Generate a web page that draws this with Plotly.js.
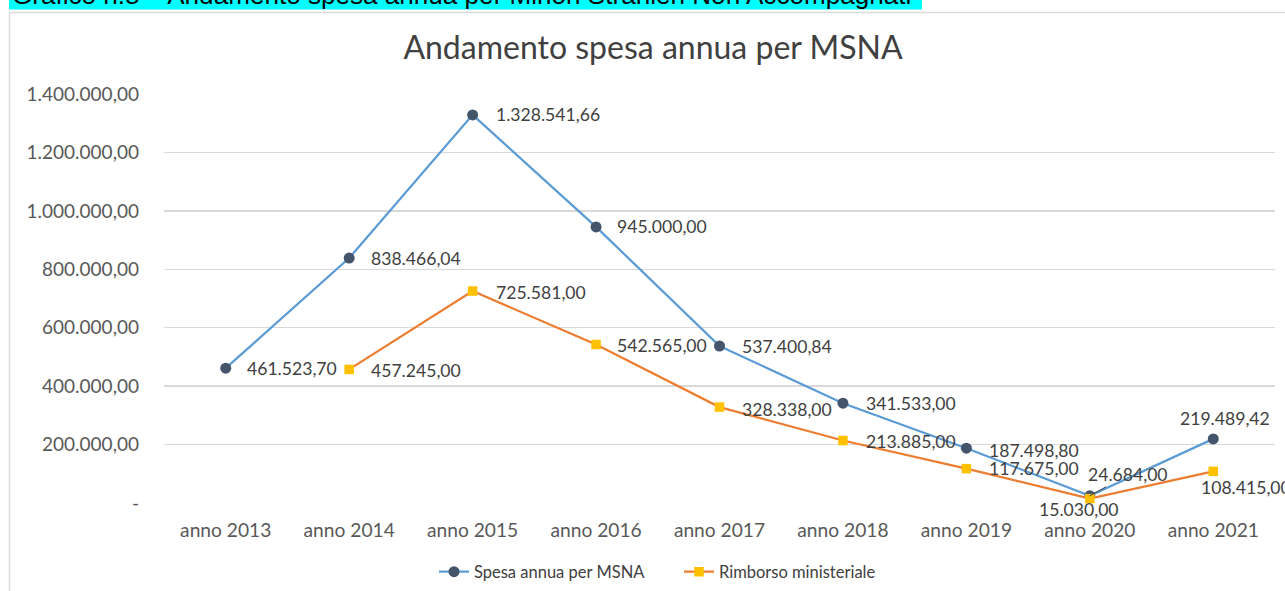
<!DOCTYPE html>
<html>
<head>
<meta charset="utf-8">
<script src="https://cdn.plot.ly/plotly-3.0.1.min.js"></script>
<style>html,body{margin:0;padding:0;background:#fff;}#chart{width:1285px;height:591px;}</style>
</head>
<body>
<div id="chart"></div>
<script>
// ---- data ----
const categories = ["anno 2013","anno 2014","anno 2015","anno 2016","anno 2017","anno 2018","anno 2019","anno 2020","anno 2021"];
const spesaName = "Spesa annua per MSNA";
const spesaValues = [461523.70, 838466.04, 1328541.66, 945000.00, 537400.84, 341533.00, 187498.80, 24684.00, 219489.42];
const rimborsoName = "Rimborso ministeriale";
const rimborsoCats = ["anno 2014","anno 2015","anno 2016","anno 2017","anno 2018","anno 2019","anno 2020","anno 2021"];
const rimborsoValues = [457245.00, 725581.00, 542565.00, 328338.00, 213885.00, 117675.00, 15030.00, 108415.00];
const yTickVals = [0, 200000, 400000, 600000, 800000, 1000000, 1200000, 1400000];
const chartTitle = "Andamento spesa annua per MSNA";
const headerText = "Grafico n.8 – Andamento spesa annua per Minori Stranieri Non Accompagnati";

// ---- formatting ----
function itFmt(v){
  if (v === 0) return "-";
  const parts = v.toFixed(2).split(".");
  const intPart = parts[0].replace(/\B(?=(\d{3})+(?!\d))/g, ".");
  return intPart + "," + parts[1];
}

// ---- layout geometry ----
const W = 1285, H = 591, L = 164, R = 10, T = 94, B = 88;
const pw = W - L - R, ph = H - T - B;
const px = x => (x - L) / pw;
const py = y => (H - B - y) / ph;

const FONT = "Lato, 'Open Sans', sans-serif";
const labelFont = {family: FONT, size: 17.6, color: "#404040"};

// label offsets (style only)
const spesaOff = [
  {xa:"left", xs:19, ys:0}, {xa:"left", xs:20, ys:0}, {xa:"left", xs:21, ys:0},
  {xa:"left", xs:19, ys:0}, {xa:"left", xs:20, ys:0}, {xa:"left", xs:21, ys:0},
  {xa:"left", xs:21, ys:-2}, {arrow:true, ax:38, ay:-21}, {xa:"center", xs:12, ys:20}
];
const rimbOff = [
  {xa:"left", xs:20, ys:-1}, {xa:"left", xs:21, ys:-1}, {xa:"left", xs:19, ys:-1},
  {xa:"left", xs:20, ys:-2}, {xa:"left", xs:21, ys:-1}, {xa:"left", xs:21, ys:0},
  {xa:"center", xs:-11, ys:-11}, {xa:"left", xs:-14, ys:-16}
];

const annotations = [];
function addLabels(cats, vals, offs){
  cats.forEach((c, i) => {
    const o = offs[i];
    if (o.arrow){
      annotations.push({x:c, y:vals[i], xref:"x", yref:"y", text:itFmt(vals[i]),
        showarrow:true, arrowhead:0, arrowwidth:1, arrowcolor:"#404040",
        ax:o.ax, ay:o.ay, font:labelFont});
    } else {
      annotations.push({x:c, y:vals[i], xref:"x", yref:"y", text:itFmt(vals[i]),
        showarrow:false, xanchor:o.xa, yanchor:"middle", xshift:o.xs, yshift:o.ys, font:labelFont});
    }
  });
}
addLabels(categories, spesaValues, spesaOff);
addLabels(rimborsoCats, rimborsoValues, rimbOff);

// header (partially cut off at top of page)
annotations.push({
  xref:"paper", yref:"paper", x:px(10), y:py(12.5), xanchor:"left", yanchor:"bottom",
  text:headerText, showarrow:false,
  font:{family:"'Liberation Sans', Arial, sans-serif", size:26.1, color:"#000000"}
});

const shapes = [
  {type:"rect", xref:"paper", yref:"paper", x0:px(9), x1:px(922), y0:py(-30), y1:py(9.5),
   fillcolor:"#00FFFF", line:{width:0}, layer:"below"},
  {type:"rect", xref:"paper", yref:"paper", x0:px(9.5), x1:px(1300), y0:py(12.5), y1:py(620),
   fillcolor:"rgba(0,0,0,0)", line:{color:"#D9D9D9", width:1.5}, layer:"below"}
];

const traces = [
  {x:categories, y:spesaValues, name:spesaName, type:"scatter", mode:"lines+markers",
   line:{color:"#5B9BD5", width:2.25}, marker:{symbol:"circle", size:11, color:"#44546A"},
   cliponaxis:false, hoverinfo:"none"},
  {x:rimborsoCats, y:rimborsoValues, name:rimborsoName, type:"scatter", mode:"lines+markers",
   line:{color:"#ED7D31", width:2.25}, marker:{symbol:"square", size:9.5, color:"#FFC000"},
   cliponaxis:false, hoverinfo:"none"}
];

const layout = {
  width:W, height:H,
  margin:{l:L, r:R, t:T, b:B, pad:0, autoexpand:false},
  paper_bgcolor:"#ffffff", plot_bgcolor:"#ffffff",
  separators:",.",
  title:{text:chartTitle, xref:"container", x:653/W, xanchor:"center", yref:"container", y:1 - 48/H, yanchor:"middle",
         font:{family:FONT, size:32, color:"#404040"}},
  xaxis:{type:"category", range:[-0.5, 8.5], showgrid:false, zeroline:false, showline:false,
         ticks:"", ticklabelstandoff:14,
         tickfont:{family:FONT, size:19.2, color:"#595959"}},
  yaxis:{range:[0, 1400000], tickvals:yTickVals, ticktext:yTickVals.map(itFmt),
         showgrid:true, gridcolor:"#D9D9D9", gridwidth:1.3, zeroline:false, showline:false,
         ticks:"", ticklabelstandoff:24,
         tickfont:{family:FONT, size:19, color:"#595959"}},
  showlegend:true,
  legend:{orientation:"h", x:px(679), xanchor:"center", y:py(572), yanchor:"middle",
          font:{family:FONT, size:16.5, color:"#404040"},
          itemwidth:30, tracegroupgap:0, entrywidth:200, entrywidthmode:"pixels"},
  annotations:annotations,
  shapes:shapes
};

Plotly.newPlot("chart", traces, layout, {staticPlot:true, displayModeBar:false});
</script>
</body>
</html>
